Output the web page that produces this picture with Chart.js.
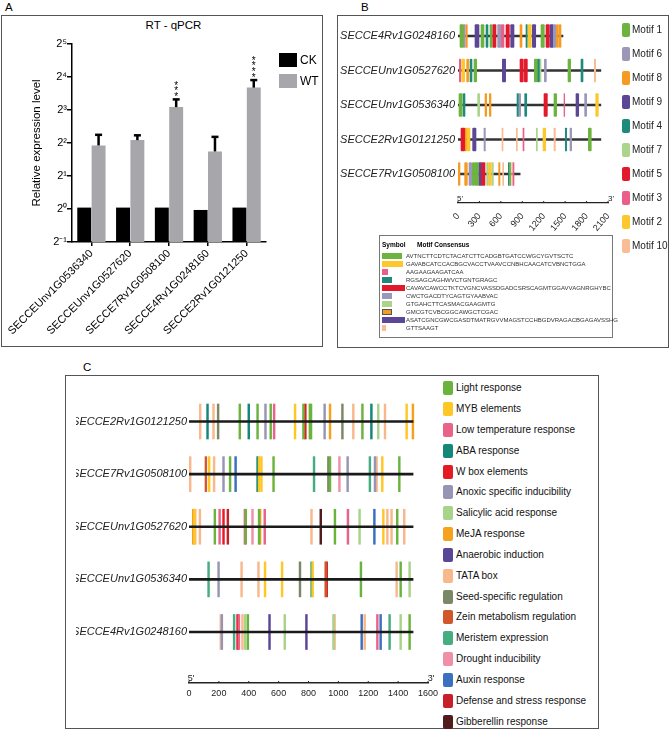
<!DOCTYPE html>
<html><head><meta charset="utf-8">
<script src="https://cdn.jsdelivr.net/npm/chart.js@4.4.1/dist/chart.umd.min.js"></script>
<style>
body{margin:0;background:#fff;width:669px;height:735px;position:relative;overflow:hidden;font-family:"Liberation Sans",Arial,sans-serif;color:#000}
.abs{position:absolute}
.box{position:absolute;border:1.5px solid #555;box-sizing:border-box}
.plab{position:absolute;font-size:11.5px;line-height:12px}
canvas{position:absolute}
.lg{position:absolute;white-space:nowrap}
</style></head><body>
<div class="box" style="left:1px;top:15px;width:322px;height:332px"></div>
<div class="box" style="left:337px;top:15px;width:332px;height:333px"></div>
<div class="box" style="left:65px;top:375px;width:534px;height:354px"></div>
<div class="plab" style="left:5px;top:1px">A</div>
<div class="plab" style="left:361px;top:1px">B</div>
<div class="plab" style="left:83px;top:361px">C</div>
<div class="abs" style="left:145px;top:19px;width:57px;text-align:center;font-size:11.5px;white-space:nowrap">RT - qPCR</div>
<canvas id="cA" width="322" height="330" style="left:0;top:16px"></canvas>
<canvas id="cB" width="330" height="230" style="left:338px;top:16px"></canvas>
<canvas id="cC" width="364" height="330" style="left:76px;top:385px"></canvas>
<div id="legA"></div><div id="legB"></div><div id="legC"></div><div id="tbl"></div>
<script>
// ---------- Panel A data ----------
const categories = ['SECCEUnv1G0536340','SECCEUnv1G0527620','SECCE7Rv1G0508100','SECCE4Rv1G0248160','SECCE2Rv1G0121250'];
const ckValues = [1.03, 1.03, 1.03, 0.98, 1.03];
const wtValues = [3.8, 4.25, 8.5, 3.35, 12.8];
const wtErrorTop = [4.75, 4.7, 10.0, 4.55, 15.0];
const significance = ['', '', '***', '', '****'];
const yTickValues = [0.5, 1, 2, 4, 8, 16, 32];
const yTickLabels = ['2⁻¹','2⁰','2¹','2²','2³','2⁴','2⁵'];
const seriesNamesA = ['CK','WT'];

// ---------- Panel B data ----------
const geneNamesB = ['SECCE4Rv1G0248160','SECCEUnv1G0527620','SECCEUnv1G0536340','SECCE2Rv1G0121250','SECCE7Rv1G0508100'];
const geneLengthsB = [1470, 2000, 2000, 2000, 870];
const motifNames = ['Motif 1','Motif 2','Motif 3','Motif 4','Motif 5','Motif 6','Motif 7','Motif 8','Motif 9','Motif 10'];
const motifLegendOrder = [0,5,7,8,3,6,4,2,1,9];
const motif1Sites = [[0,28,75],[0,322,364],[0,448,476],[0,1162,1209],[1,224,261],[1,1069,1111],[1,1540,1577],[2,14,61],[2,1344,1381],[3,1825,1866],[4,201,233],[4,238,285],[4,723,737]];
const motif2Sites = [[0,980,1027],[1,51,93],[2,1928,1965],[3,125,168],[3,1190,1228],[4,429,467]];
const motif3Sites = [[0,607,644],[1,19,37],[2,1484,1494],[3,910,924],[4,770,784]];
const motif4Sites = [[0,392,420],[0,952,971],[1,168,196],[1,1111,1139],[1,1722,1750],[2,75,98],[2,826,845],[2,934,962],[3,1503,1521],[4,705,719]];
const motif5Sites = [[0,485,532],[0,672,719],[0,1232,1279],[1,868,915],[1,929,971],[2,1204,1251],[3,42,93],[4,331,378]];
const motif6Sites = [[0,75,98],[0,555,602],[0,1335,1368],[1,1209,1237],[2,850,877],[2,1773,1801],[3,364,383],[3,1568,1591],[4,154,191]];
const motif7Sites = [[1,1139,1162],[2,275,303],[3,1097,1111],[4,401,425],[4,476,495]];
const motif8Sites = [[0,107,131],[0,868,896],[0,1377,1405],[0,1414,1442],[1,121,149],[2,378,401],[2,439,462],[3,93,120],[4,5,28],[4,93,131],[4,569,588]];
const motif9Sites = [[0,238,294],[0,737,784],[0,1041,1088],[0,1288,1335],[1,621,667],[2,1652,1690],[3,205,252],[4,289,331]];
const motif10Sites = [[1,1909,1928],[3,616,630],[3,817,831],[3,1344,1363],[4,625,639],[4,751,761]];
const motifConsensus = ['AVTNCTTCDTCTACATCTTCADGBTGATCCWGCYGVTSCTC','GAVABCATCCACBGCVACCTVAAVCCNBHCAACATCVBNCTGGA','AAGAAGAAGATCAA','RGSAGCAGHWVCTGNTGRAGC','CAVAVCAWCCTKTCVGNCVASSDGADCSRSCAGMTGGAVVAGNRGHYBC','CWCTGACDTYCAGTGYAABVAC','GTGAHCTTCASMACGAAGMTG','GMCGTCVBCGGCAWGCTCGAC','ASATCGNCGWCGASDTMATRGVVMAGSTCCHBGDVRAGACBGAGAVSSHG','GTTSAAGT'];
const bTicks = [0,300,600,900,1200,1500,1800,2100];

// ---------- Panel C data ----------
const geneNamesC = ['SECCE2Rv1G0121250','SECCE7Rv1G0508100','SECCEUnv1G0527620','SECCEUnv1G0536340','SECCE4Rv1G0248160'];
const geneLengthsC = [1500, 1500, 1500, 1500, 1500];
const elementNames = ['Light response','MYB elements','Low temperature response','ABA response','W box elements','Anoxic specific inducibility','Salicylic acid response','MeJA response','Anaerobic induction','TATA box','Seed-specific regulation','Zein metabolism regulation','Meristem expression','Drought inducibility','Auxin response','Defense and stress response','Gibberellin response'];
const lightSites = [[0,334],[0,453],[0,541],[0,760],[0,803],[0,811],[0,1155],[1,269],[1,560],[1,938],[1,1402],[2,167],[2,374],[2,463],[2,971],[2,1388],[3,1145],[3,1411],[4,388],[4,1471]];
const mybSites = [[0,704],[0,1451],[1,129],[1,463],[1,479],[1,1288],[2,30],[2,1295],[3,503],[3,617],[3,822]];
const lowTempSites = [[0,564],[2,199],[2,368],[2,501],[2,1058],[4,328],[4,1255]];
const abaSites = [[0,118],[0,394],[0,1215],[1,453]];
const wboxSites = [[0,773],[2,225],[4,319]];
const anoxicSites = [[0,506],[0,902],[1,225],[1,1056],[1,1239],[3,192],[4,214]];
const salicylicSites = [[0,1261],[2,1136],[3,1471],[4,370],[4,635],[4,961],[4,1411]];
const mejaSites = [[0,938],[0,1493],[2,22],[2,470]];
const anaerobicSites = [[4,533],[4,780]];
const tataSites = [[0,69],[0,158],[0,1094],[0,1306],[1,2],[1,162],[1,1250],[2,36],[2,67],[2,814],[2,1322],[2,1350],[2,1435],[3,346],[3,459],[3,1384],[4,207],[4,352],[4,969],[4,1170]];
const seedSites = [[0,189],[0,1021],[1,927],[3,737]];
const zeinSites = [[1,107],[3,909]];
const meristemSites = [[1,831],[1,1205],[3,125],[3,814],[4,296],[4,1337]];
const droughtSites = [[1,1001],[2,419]];
const auxinSites = [[1,306],[2,1235],[4,1150],[4,1277]];
const defenseSites = [[2,254],[3,916]];
const gibberellinSites = [[2,876]];
const cTicks = [0,200,400,600,800,1000,1200,1400,1600];

// ---------- styles ----------
const FONT = '"Liberation Sans", Arial, sans-serif';
Chart.defaults.font.family = FONT;
Chart.defaults.color = '#000';
const colorsA = ['#000000','#a6a6ab'];
const motifColors = ['#6db33f','#fdc72e','#ea5f89','#1e8a7c','#e3192b','#9a97b9','#acd48a','#f59a23','#5c4696','#f9bc94'];
const motifSymbolWidths = [20,21,6,10,23,10,10,10,23,4];
const elementColors = ['#6ab43e','#ffc726','#e8628a','#13877a','#e41b23','#9795b5','#a8d38a','#f6a11c','#5a4697','#f8b88b','#7b8868','#d2572c','#45ad7f','#f08fa8','#3b6fc0','#c8202a','#521c1c'];

// ---------- Panel A ----------
const errPlugin = {
  id:'errbars',
  afterDatasetsDraw(chart){
    const ctx = chart.ctx, meta = chart.getDatasetMeta(1), y = chart.scales.y;
    ctx.save();
    ctx.strokeStyle = '#000'; ctx.fillStyle = '#000';
    meta.data.forEach((bar, i) => {
      const x = bar.x;
      const top = y.getPixelForValue(wtValues[i]);
      const et = y.getPixelForValue(wtErrorTop[i]);
      ctx.lineWidth = 2.5;
      ctx.beginPath(); ctx.moveTo(x, top); ctx.lineTo(x, et); ctx.stroke();
      ctx.beginPath(); ctx.moveTo(x - 3.5, et); ctx.lineTo(x + 3.5, et); ctx.stroke();
      const s = significance[i];
      ctx.font = '10px ' + FONT; ctx.textAlign = 'center'; ctx.textBaseline = 'alphabetic';
      for (let k = 0; k < s.length; k++) ctx.fillText('*', x, et - 5 - 5.7 * k + 5.7);
    });
    ctx.restore();
  }
};
new Chart(document.getElementById('cA'), {
  type:'bar',
  data:{labels:categories, datasets:[
    {label:seriesNamesA[0], data:ckValues, backgroundColor:colorsA[0]},
    {label:seriesNamesA[1], data:wtValues, backgroundColor:colorsA[1]}]},
  options:{
    responsive:false, animation:false, events:[],
    layout:{padding:{left:26,right:56,top:28,bottom:0}},
    datasets:{bar:{categoryPercentage:0.74, barPercentage:0.97}},
    plugins:{legend:{display:false}, tooltip:{enabled:false}},
    scales:{
      x:{grid:{offset:false, drawOnChartArea:false, drawTicks:true, tickLength:4, color:'#000', lineWidth:1.5},
         border:{display:true, color:'#000', width:1.5},
         ticks:{color:'#000', font:{size:11}, minRotation:45, maxRotation:45, padding:1, autoSkip:false},
         afterFit:s=>{s.height=104; s.paddingLeft=0; s.paddingRight=0;}},
      y:{type:'logarithmic', min:0.5, max:32,
         afterBuildTicks:s=>{s.ticks = yTickValues.map(v=>({value:v}));},
         ticks:{color:'#000', font:{size:11}, padding:0, callback:(v,i)=>yTickLabels[i]},
         grid:{drawOnChartArea:false, drawTicks:true, tickLength:5, color:'#000', lineWidth:1.5},
         border:{display:true, color:'#000', width:1.5},
         title:{display:true, text:'Relative expression level', color:'#000', font:{size:11.5}, padding:{top:4,bottom:0}},
         afterFit:s=>{s.width=46; s.paddingTop=0; s.paddingBottom=0;}}
    }
  },
  plugins:[errPlugin]
});
(function(){
  const el = document.getElementById('legA');
  const tops = [53, 74];
  seriesNamesA.forEach((n,i)=>{
    el.insertAdjacentHTML('beforeend',
      `<div class="lg" style="left:279px;top:${tops[i]}px;width:18px;height:14px;background:${colorsA[i]}"></div>
       <div class="lg" style="left:300px;top:${tops[i]}px;font-size:12px;line-height:14px">${n}</div>`);
  });
})();

// ---------- axis decoration (5'/3' and small tick marks) ----------
function axisDecor(fontSize, tickUp){
  return {id:'decor', afterDraw(chart){
    const s = chart.scales.x, ctx = chart.ctx;
    ctx.save();
    ctx.strokeStyle = '#222'; ctx.lineWidth = 1;
    s.ticks.forEach(t=>{const px = s.getPixelForValue(t.value); ctx.beginPath(); ctx.moveTo(px, s.top); ctx.lineTo(px, s.top - tickUp); ctx.stroke();});
    ctx.fillStyle = '#222'; ctx.font = fontSize + 'px ' + FONT; ctx.textBaseline = 'bottom'; ctx.textAlign = 'center';
    ctx.fillText("5'", s.left + 2, s.top);
    ctx.fillText("3'", s.right + 3, s.top);
    ctx.restore();
  }};
}

// ---------- Panel B ----------
const motifSiteLists = [motif1Sites,motif2Sites,motif3Sites,motif4Sites,motif5Sites,motif6Sites,motif7Sites,motif8Sites,motif9Sites,motif10Sites];
const bDatasets = [{
  label:'backbone', data:geneLengthsB.map((L,i)=>({y:i, x:[0,L]})),
  backgroundColor:'#333', barThickness:1.6, grouped:false, order:2
}];
motifSiteLists.forEach((sites, m)=>{
  bDatasets.push({label:motifNames[m], data:sites.map(([r,s,e])=>({y:r, x:[s,e]})),
    backgroundColor:motifColors[m], barThickness:23, grouped:false, order:1, borderRadius:1, borderSkipped:false});
});
new Chart(document.getElementById('cB'), {
  type:'bar',
  data:{datasets:bDatasets},
  options:{
    indexAxis:'y', responsive:false, animation:false, events:[],
    layout:{padding:{left:0,right:60,top:2.75,bottom:0}},
    plugins:{legend:{display:false}, tooltip:{enabled:false}},
    scales:{
      x:{type:'linear', min:0, max:2100, offset:false,
         afterBuildTicks:s=>{s.ticks = bTicks.map(v=>({value:v}));},
         grid:{display:false, drawTicks:false},
         border:{display:true, color:'#222', width:1.3},
         ticks:{color:'#222', font:{size:9}, padding:8, callback:v=>String(v)},
         afterFit:s=>{s.height=43; s.paddingLeft=0; s.paddingRight=0;}},
      y:{type:'linear', reverse:true, min:-0.5, max:4.8406, offset:false,
         afterBuildTicks:s=>{s.ticks = geneNamesB.map((n,i)=>({value:i}));},
         grid:{display:false, drawTicks:false, offset:false}, border:{display:false},
         ticks:{color:'#222', font:{size:11, style:'italic'}, padding:3, callback:v=>geneNamesB[v]},
         afterFit:s=>{s.width=120; s.paddingTop=0; s.paddingBottom=0;}}
    }
  },
  plugins:[axisDecor(8, 2)]
});
(function(){
  const el = document.getElementById('legB');
  motifLegendOrder.forEach((m,k)=>{
    const cy = 30 + 24*k;
    el.insertAdjacentHTML('beforeend',
      `<div class="lg" style="left:622px;top:${cy-7}px;width:8px;height:14px;border-radius:2px;background:${motifColors[m]}"></div>
       <div class="lg" style="left:632px;top:${cy-7}px;font-size:10px;line-height:14px;color:#222">${motifNames[m]}</div>`);
  });
  const t = document.getElementById('tbl');
  let h = `<div class="lg" style="left:379px;top:235px;width:234px;height:103px;border:1px solid #777;box-sizing:border-box"></div>
    <div class="lg" style="left:382px;top:241px;font-size:6.5px;font-weight:bold;line-height:8px">Symbol</div>
    <div class="lg" style="left:417px;top:241px;font-size:6.5px;font-weight:bold;line-height:8px">Motif Consensus</div>`;
  motifConsensus.forEach((seq,m)=>{
    const cy = 255.7 + 8.05*m;
    const bord = m===7 ? 'border:1px solid #555;box-sizing:border-box;' : '';
    h += `<div class="lg" style="left:382px;top:${cy-3}px;width:${motifSymbolWidths[m]}px;height:6px;${bord}background:${motifColors[m]}"></div>
      <div class="lg" style="left:406px;top:${cy-4}px;font-size:6px;line-height:8px;color:#333">${seq}</div>`;
  });
  t.innerHTML = h;
})();

// ---------- Panel C ----------
const elementSiteLists = [lightSites,mybSites,lowTempSites,abaSites,wboxSites,anoxicSites,salicylicSites,mejaSites,anaerobicSites,tataSites,seedSites,zeinSites,meristemSites,droughtSites,auxinSites,defenseSites,gibberellinSites];
const cDatasets = [{
  label:'backbone', data:geneLengthsC.map((L,i)=>({y:i, x:[0,L]})),
  backgroundColor:'#1a1a1a', barThickness:2, grouped:false, order:0
}];
elementSiteLists.forEach((sites, e)=>{
  cDatasets.push({label:elementNames[e], data:sites.map(([r,p])=>({y:r, x:[p, p+12]})),
    backgroundColor:elementColors[e], barThickness:35, grouped:false, order:1});
});
new Chart(document.getElementById('cC'), {
  type:'bar',
  data:{datasets:cDatasets},
  options:{
    indexAxis:'y', responsive:false, animation:false, events:[],
    layout:{padding:{left:0,right:12,top:5,bottom:0}},
    plugins:{legend:{display:false}, tooltip:{enabled:false}},
    scales:{
      x:{type:'linear', min:0, max:1600, offset:false,
         afterBuildTicks:s=>{s.ticks = cTicks.map(v=>({value:v}));},
         grid:{display:false, drawTicks:false},
         border:{display:true, color:'#222', width:1.5},
         ticks:{color:'#222', font:{size:9}, padding:5, callback:v=>String(v)},
         afterFit:s=>{s.height=32; s.paddingLeft=0; s.paddingRight=0;}},
      y:{type:'linear', reverse:true, min:-0.5986, max:4.9691, offset:false,
         afterBuildTicks:s=>{s.ticks = geneNamesC.map((n,i)=>({value:i}));},
         grid:{display:false, drawTicks:false, offset:false}, border:{display:false},
         ticks:{color:'#222', font:{size:11, style:'italic'}, padding:2, callback:v=>geneNamesC[v]},
         afterFit:s=>{s.width=113; s.paddingTop=0; s.paddingBottom=0;}}
    }
  },
  plugins:[axisDecor(9, 2)]
});
(function(){
  const el = document.getElementById('legC');
  elementNames.forEach((n,k)=>{
    const cy = 388.3 + 20.83*k;
    el.insertAdjacentHTML('beforeend',
      `<div class="lg" style="left:443px;top:${cy-7}px;width:10px;height:14px;border-radius:2px;background:${elementColors[k]}"></div>
       <div class="lg" style="left:456px;top:${cy-7}px;font-size:10px;line-height:14px;color:#111">${n}</div>`);
  });
})();
</script>
</body></html>
